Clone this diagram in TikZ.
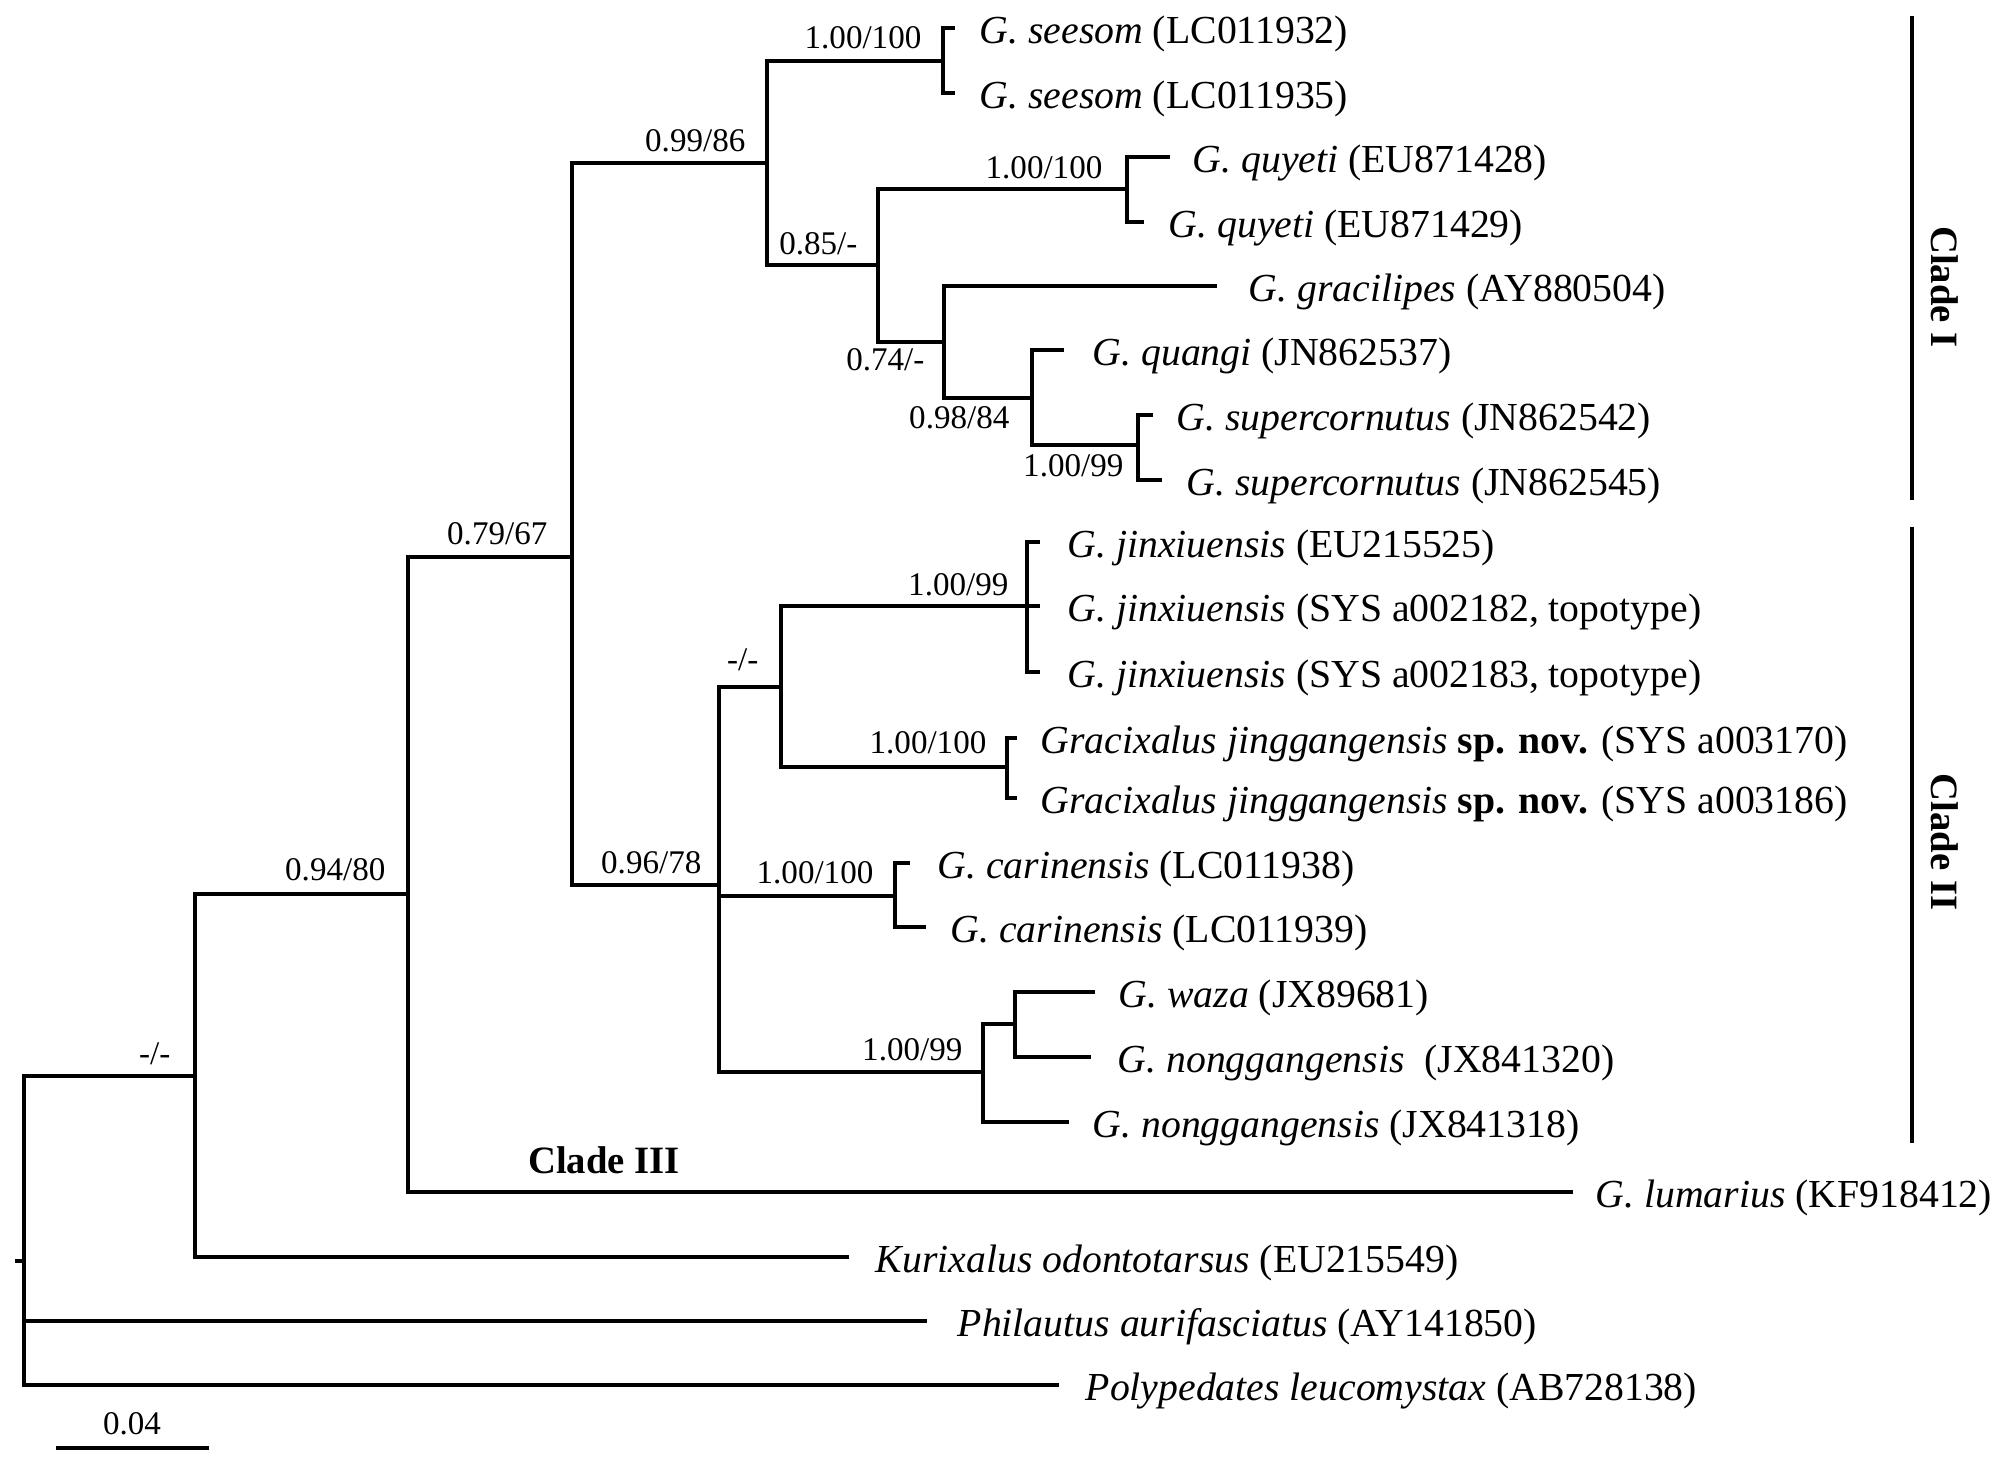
\documentclass[tikz,border=0pt]{standalone}
\usepackage{fontspec}
\setmainfont{Liberation Serif}

\begin{document}
\begin{tikzpicture}[
    x=0.01cm, y=-0.01cm,
    branch/.style={line width=1.1pt, line cap=rect, line join=miter},
    cladebar/.style={line width=1.2pt},
    taxon/.style={font=\fontsize{11.3}{13}\selectfont, inner sep=0pt, anchor=base west},
    supp/.style={font=\fontsize{9.4}{11}\selectfont, inner sep=0pt, anchor=base east},
    cladelab/.style={font=\fontsize{11}{13}\selectfont\bfseries, inner sep=0pt}
]
\useasboundingbox (0,0) rectangle (2007,1468);

% internal nodes
\coordinate (r0)  at (17,1261);
\coordinate (R)   at (24,1261);
\coordinate (n1)  at (195,1076);
\coordinate (n2)  at (408,894);
\coordinate (n3)  at (572,557);
\coordinate (n4)  at (767,163);
\coordinate (n5)  at (943,61);
\coordinate (n6)  at (878,265);
\coordinate (n7)  at (1127,189);
\coordinate (n8)  at (944,342);
\coordinate (n9)  at (1032,398);
\coordinate (n10) at (1138,445);
\coordinate (n11) at (719,885);
\coordinate (n12) at (781,687);
\coordinate (n13) at (1027,606);
\coordinate (n14) at (1007,767);
\coordinate (n15) at (895,896);
\coordinate (n16) at (983,1072);
\coordinate (n17) at (1015,1024);

% tips
\coordinate (t1)  at (953,28);
\coordinate (t2)  at (953,93);
\coordinate (t3)  at (1168,157);
\coordinate (t4)  at (1142,222);
\coordinate (t5)  at (1215,286);
\coordinate (t6)  at (1062,350);
\coordinate (t7)  at (1151,415);
\coordinate (t8)  at (1160,480);
\coordinate (t9)  at (1038,542);
\coordinate (t10) at (1038,606);
\coordinate (t11) at (1038,672);
\coordinate (t12) at (1015,738);
\coordinate (t13) at (1015,798);
\coordinate (t14) at (908,863);
\coordinate (t15) at (924,927);
\coordinate (t16) at (1093,992);
\coordinate (t17) at (1089,1057);
\coordinate (t18) at (1067,1122);
\coordinate (t19) at (1571,1192);
\coordinate (t20) at (847,1257);
\coordinate (t21) at (925,1321);
\coordinate (t22) at (1057,1385);

% taxa
\node[taxon] (x1)  at (979,43)   {\textit{G. seesom} (LC011932)};
\node[taxon] (x2)  at (979,108)  {\textit{G. seesom} (LC011935)};
\node[taxon] (x3)  at (1192,172) {\textit{G. quyeti} (EU871428)};
\node[taxon] (x4)  at (1168,237) {\textit{G. quyeti} (EU871429)};
\node[taxon] (x5)  at (1248,301) {\textit{G. gracilipes} (AY880504)};
\node[taxon] (x6)  at (1092,365) {\textit{G. quangi} (JN862537)};
\node[taxon] (x7)  at (1176,430) {\textit{G. supercornutus} (JN862542)};
\node[taxon] (x8)  at (1186,495) {\textit{G. supercornutus} (JN862545)};
\node[taxon] (x9)  at (1067,557) {\textit{G. jinxiuensis} (EU215525)};
\node[taxon] (x10) at (1067,621) {\textit{G. jinxiuensis} (SYS a002182, topotype)};
\node[taxon] (x11) at (1067,687) {\textit{G. jinxiuensis} (SYS a002183, topotype)};
\node[taxon] (x12) at (1040,753) {\textit{Gracixalus jinggangensis} \textbf{sp. nov.} (SYS a003170)};
\node[taxon] (x13) at (1040,813) {\textit{Gracixalus jinggangensis} \textbf{sp. nov.} (SYS a003186)};
\node[taxon] (x14) at (937,878)  {\textit{G. carinensis} (LC011938)};
\node[taxon] (x15) at (950,942)  {\textit{G. carinensis} (LC011939)};
\node[taxon] (x16) at (1118,1007) {\textit{G. waza} (JX89681)};
\node[taxon] (x17) at (1117,1072) {\textit{G. nonggangensis}\ \ (JX841320)};
\node[taxon] (x18) at (1092,1137) {\textit{G. nonggangensis} (JX841318)};
\node[taxon] (x19) at (1595,1207) {\textit{G. lumarius} (KF918412)};
\node[taxon] (x20) at (875,1272)  {\textit{Kurixalus odontotarsus} (EU215549)};
\node[taxon] (x21) at (957,1336)  {\textit{Philautus aurifasciatus} (AY141850)};
\node[taxon] (x22) at (1085,1400) {\textit{Polypedates leucomystax} (AB728138)};

% branches
\draw[branch] (r0) -- (R);
\foreach \a/\b in {R/n1, R/t21, R/t22, n1/n2, n1/t20, n2/n3, n2/t19,
                   n3/n4, n3/n11, n4/n5, n4/n6, n5/t1, n5/t2,
                   n6/n7, n6/n8, n7/t3, n7/t4, n8/t5, n8/n9,
                   n9/t6, n9/n10, n10/t7, n10/t8,
                   n11/n12, n11/n15, n11/n16, n12/n13, n12/n14,
                   n13/t9, n13/t10, n13/t11, n14/t12, n14/t13,
                   n15/t14, n15/t15, n16/n17, n16/t18, n17/t16, n17/t17}{
    \draw[branch] (\a) |- (\b);
}

% support values
\node[supp] (b1)  at ([shift={(-24,-12)}]n1)  {-/-};
\node[supp] (b2)  at ([shift={(-22,-14)}]n2)  {0.94/80};
\node[supp] (b3)  at ([shift={(-24,-13)}]n3)  {0.79/67};
\node[supp] (b4)  at ([shift={(-21,-12)}]n4)  {0.99/86};
\node[supp] (b5)  at ([shift={(-21,-13)}]n5)  {1.00/100};
\node[supp] (b6)  at ([shift={(-20,-11)}]n6)  {0.85/-};
\node[supp] (b7)  at ([shift={(-24,-11)}]n7)  {1.00/100};
\node[supp] (b8)  at ([shift={(-19,28)}]n8)   {0.74/-};
\node[supp] (b9)  at ([shift={(-22,30)}]n9)   {0.98/84};
\node[supp] (b10) at ([shift={(-14,31)}]n10)  {1.00/99};
\node[supp] (b11) at ([shift={(-17,-12)}]n11) {0.96/78};
\node[supp] (b12) at ([shift={(-22,-17)}]n12) {-/-};
\node[supp] (b13) at ([shift={(-18,-11)}]n13) {1.00/99};
\node[supp] (b14) at ([shift={(-20,-14)}]n14) {1.00/100};
\node[supp] (b15) at ([shift={(-21,-13)}]n15) {1.00/100};
\node[supp] (b16) at ([shift={(-20,-12)}]n16) {1.00/99};

% clades
\coordinate (c1a) at (1912,16);
\coordinate (c1b) at (1912,500);
\coordinate (c2a) at (1912,527);
\coordinate (c2b) at (1912,1143);
\draw[cladebar] (c1a) -- (c1b);
\draw[cladebar] (c2a) -- (c2b);
\node[cladelab, rotate=-90] (k1) at (1945,287) {Clade I};
\node[cladelab, rotate=-90] (k2) at (1945,842) {Clade II};
\node[cladelab, anchor=base] (k3) at (604,1173) {Clade III};

% scale bar
\coordinate (sb1) at (56,1448);
\coordinate (sb2) at (209,1448);
\draw[branch, line cap=butt] (sb1) -- (sb2);
\node[supp, anchor=base] (sbl) at (132,1434) {0.04};
\end{tikzpicture}
\end{document}
